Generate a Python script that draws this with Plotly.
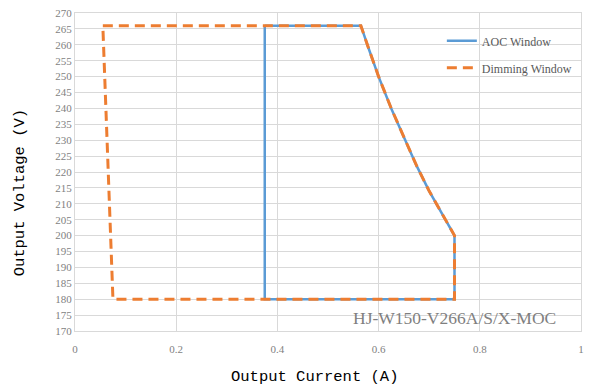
import plotly.graph_objects as go

# Operating windows of the driver (current in A, voltage in V)
aoc_current = [0.375, 0.565, 0.58, 0.60, 0.625, 0.65, 0.675, 0.70, 0.725, 0.75, 0.75, 0.375, 0.375]
aoc_voltage = [266, 266, 259, 250, 240, 231, 222, 214, 207, 200, 180, 180, 266]

dim_current = [0.055, 0.565, 0.58, 0.60, 0.625, 0.65, 0.675, 0.70, 0.725, 0.75, 0.75, 0.075, 0.055]
dim_voltage = [266, 266, 259, 250, 240, 231, 222, 214, 207, 200, 180, 180, 266]

x_ticks = [0, 0.2, 0.4, 0.6, 0.8, 1]
x_tick_text = ["0", "0.2", "0.4", "0.6", "0.8", "1"]
y_ticks = list(range(170, 275, 5))

model_name = "HJ-W150-V266A/S/X-MOC"
x_title = "Output Current (A)"
y_title = "Output Voltage (V)"

BLUE = "#5B9BD5"
ORANGE = "#ED7D31"
GRID = "#D9D9D9"
SERIF = "Liberation Serif"
MONO = "Liberation Mono"

fig = go.Figure()
fig.add_trace(go.Scatter(
    x=aoc_current, y=aoc_voltage, mode="lines", name="AOC Window",
    legendgroup="aoc",
    line=dict(color=BLUE, width=2.5),
))
fig.add_trace(go.Scatter(
    x=dim_current, y=dim_voltage, mode="lines", name="Dimming Window",
    legendgroup="dim",
    line=dict(color=ORANGE, width=3, dash="10px,6px"),
))

fig.add_annotation(
    x=0.75, y=174, xref="x", yref="y", text=model_name, showarrow=False,
    xanchor="center", yanchor="middle",
    font=dict(family=SERIF, size=17.5, color="#7F7F7F"),
)

# Axis titles
fig.add_annotation(
    x=0.4735, y=-0.145, xref="paper", yref="paper", text=x_title,
    showarrow=False, xanchor="center", yanchor="middle",
    font=dict(family=MONO, size=15.5, color="black"),
)
fig.add_annotation(
    x=-0.108, y=0.434, xref="paper", yref="paper", text=y_title,
    showarrow=False, xanchor="center", yanchor="middle", textangle=-90,
    font=dict(family=MONO, size=15.5, color="black"),
)

fig.update_layout(
    width=590, height=389,
    margin=dict(l=75, r=6, t=13, b=58),
    paper_bgcolor="white", plot_bgcolor="white",
    showlegend=True,
    legend=dict(
        x=0.725, y=0.958, xanchor="left", yanchor="top",
        bgcolor="rgba(0,0,0,0)", borderwidth=0,
        font=dict(family=SERIF, size=12, color="#595959"),
        tracegroupgap=8, itemwidth=30,
    ),
    xaxis=dict(
        range=[0, 1], tickvals=x_ticks, ticktext=x_tick_text,
        showgrid=True, gridcolor=GRID, gridwidth=1,
        zeroline=False, showline=True, linecolor=GRID, mirror=True,
        ticks="", ticklabelstandoff=8,
        tickfont=dict(family=SERIF, size=11, color="#7F7F7F"),
    ),
    yaxis=dict(
        range=[170, 270], tickvals=y_ticks,
        showgrid=True, gridcolor=GRID, gridwidth=1,
        zeroline=False, showline=True, linecolor=GRID, mirror=True,
        ticks="", tickfont=dict(family=SERIF, size=11, color="#7F7F7F"),
    ),
)

fig.write_html("out.html")
